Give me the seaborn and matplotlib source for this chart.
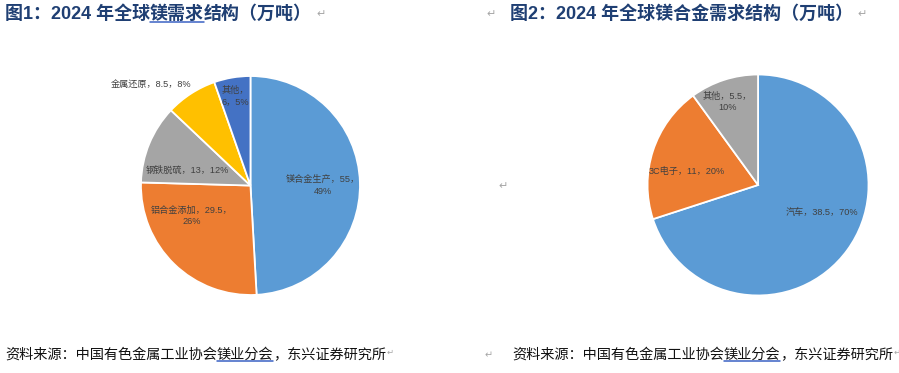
import matplotlib
matplotlib.use("Agg")
import matplotlib.pyplot as plt
from matplotlib.lines import Line2D
import seaborn as sns

# ---- data (万吨) ----
mg_categories = ["镁合金生产", "铝合金添加", "钢铁脱硫", "金属还原", "其他"]
mg_values = [55, 29.5, 13, 8.5, 6]

alloy_categories = ["汽车", "3C电子", "其他"]
alloy_values = [38.5, 11, 5.5]

title_1 = ("图1：2024 年全球", "镁需求", "结构（万吨）")
title_2 = "图2：2024 年全球镁合金需求结构（万吨）"
source_text = ("资料来源：中国有色金属工业协会", "镁业分会", "，东兴证券研究所")

# ---- styling / layout ----
sns.set_theme(style="white")
plt.rcParams["font.family"] = ["Liberation Sans", "Noto Sans CJK SC", "DejaVu Sans"]

mg_colors = ["#5B9BD5", "#ED7D31", "#A5A5A5", "#FFC000", "#4472C4"]
alloy_colors = ["#5B9BD5", "#ED7D31", "#A5A5A5"]

# label line-break style: "value" -> break after value, "name" -> after name
mg_breaks = ["value", "value", None, None, "name"]
alloy_breaks = [None, None, "value"]
# label anchor points in pie units (radius = 1)
mg_label_xy = [(0.66, 0.0), (-0.54, -0.28), (-0.58, 0.14), (-0.91, 0.92), (-0.14, 0.82)]
alloy_label_xy = [(0.58, -0.25), (-0.64, 0.12), (-0.28, 0.75)]

TITLE_COLOR = "#1F3F73"
LABEL_COLOR = "#404040"
MARK_COLOR = "#A6A6A6"
LINK_COLOR = "#3A62C4"
CJK = ["Liberation Sans", "Noto Sans CJK SC", "DejaVu Sans"]
ARROW_FONT = ["DejaVu Sans"]

fig = plt.figure(figsize=(8.99, 3.73), dpi=100)
fig.patch.set_facecolor("white")


def make_label(name, value, total, brk):
    pct = f"{value / total * 100:.0f}%"
    val = f"{value:g}"
    if brk == "value":
        return f"{name}，{val}，\n{pct}"
    if brk == "name":
        return f"{name}，\n{val}，{pct}"
    return f"{name}，{val}，{pct}"


def draw_pie(rect, names, values, colors, breaks, label_xy):
    ax = fig.add_axes(rect)
    ax.pie(values, colors=colors, startangle=90, counterclock=False, radius=1,
           wedgeprops=dict(edgecolor="white", linewidth=1.3))
    ax.set_xlim(-1, 1)
    ax.set_ylim(-1, 1)
    ax.axis("off")
    total = sum(values)
    for name, val, brk, (x, y) in zip(names, values, breaks, label_xy):
        ax.text(x, y, make_label(name, val, total, brk), ha="center", va="center",
                multialignment="center", fontsize=6.6, color=LABEL_COLOR,
                family=CJK, linespacing=1.35)
    return ax


draw_pie([0.1568, 0.2091, 0.2436, 0.5871], mg_categories, mg_values,
         mg_colors, mg_breaks, mg_label_xy)
draw_pie([0.7203, 0.2078, 0.2458, 0.5925], alloy_categories, alloy_values,
         alloy_colors, alloy_breaks, alloy_label_xy)

# ---- overlay for headings, source lines and paragraph marks ----
top = fig.add_axes([0, 0, 1, 1], facecolor="none")
top.set_xlim(0, 899)
top.set_ylim(373, 0)
top.axis("off")

tkw = dict(fontsize=12.95, fontweight="bold", color=TITLE_COLOR, family=CJK)
t1a = top.text(5, 14, title_1[0], ha="left", va="center", **tkw)
t1b = top.annotate(title_1[1], xy=(1, 0), xycoords=t1a, ha="left", va="bottom", **tkw)
t1c = top.annotate(title_1[2], xy=(1, 0), xycoords=t1b, ha="left", va="bottom", **tkw)
top.annotate("↵", xy=(1, 0.5), xycoords=t1c, xytext=(3, 0), textcoords="offset points",
             ha="left", va="center", fontsize=8, color=MARK_COLOR, family=ARROW_FONT)

t2 = top.text(510, 14, title_2, ha="left", va="center", **tkw)
top.text(491, 14, "↵", ha="center", va="center", fontsize=8, color=MARK_COLOR,
         family=ARROW_FONT)
top.annotate("↵", xy=(1, 0.5), xycoords=t2, xytext=(3, 0), textcoords="offset points",
             ha="left", va="center", fontsize=8, color=MARK_COLOR, family=ARROW_FONT)

# paragraph mark between the two charts
top.text(503, 186, "↵", ha="center", va="center", fontsize=8, color=MARK_COLOR,
         family=ARROW_FONT)

skw = dict(fontsize=10.2, color="#111111", family=CJK)
source_parts = []
for x0 in (5, 512):
    sa = top.text(x0, 355, source_text[0], ha="left", va="center", **skw)
    sb = top.annotate(source_text[1], xy=(1, 0), xycoords=sa, ha="left", va="bottom", **skw)
    sc = top.annotate(source_text[2], xy=(1, 0), xycoords=sb, ha="left", va="bottom", **skw)
    top.annotate("↵", xy=(1, 0.5), xycoords=sc, xytext=(0, 2), textcoords="offset points",
                 ha="left", va="center", fontsize=6, color=MARK_COLOR, family=ARROW_FONT)
    source_parts.append(sb)
top.text(489, 355, "↵", ha="center", va="center", fontsize=7, color=MARK_COLOR,
         family=ARROW_FONT)

# underline the highlighted phrases once their extents are known
fig.canvas.draw()
renderer = fig.canvas.get_renderer()
inv = top.transData.inverted()
for txt in [t1b] + source_parts:
    bb = txt.get_window_extent(renderer)
    (x0, y0), (x1, _) = inv.transform([(bb.x0, bb.y0), (bb.x1, bb.y1)])
    top.add_line(Line2D([x0, x1], [y0 - 1.0, y0 - 1.0], color=LINK_COLOR, lw=1.1))

fig.savefig("out.png", dpi=100, facecolor="white")
